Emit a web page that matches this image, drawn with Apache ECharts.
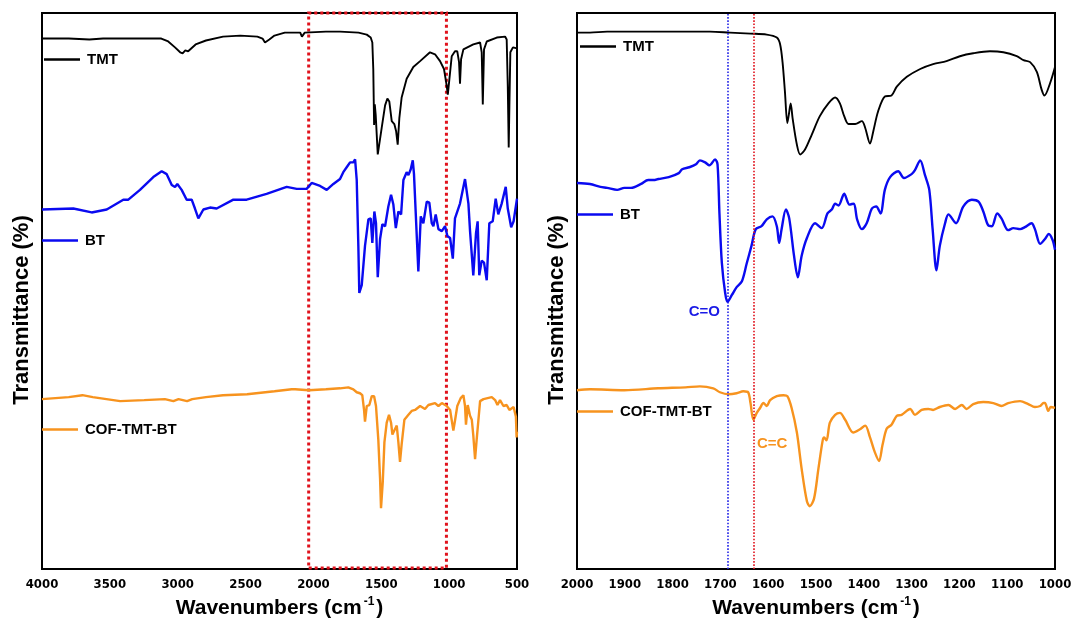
<!DOCTYPE html>
<html>
<head>
<meta charset="utf-8">
<style>html,body{margin:0;padding:0;background:#fff}#c{width:1075px;height:625px}</style>
<script src="https://cdn.jsdelivr.net/npm/echarts@6/dist/echarts.min.js"></script>
</head>
<body>
<div id="c"></div>
<script>
// ---- data: [wavenumber (cm-1), transmittance (offset, a.u.)] ----
const leftTMT = [[4000,540],[3803,540],[3651,539],[3550,540],[3297,540],[3121,540],[3070,537],[3020,531],[2982,526],[2964,525],[2944,528],[2923,527],[2868,534],[2792,538],[2666,542],[2539,543],[2413,542],[2375,540],[2357,536],[2325,539],[2287,543],[2211,546],[2097,546],[2085,542],[2064,546],[1908,547],[1804,547],[1668,546],[1607,544],[1578,541],[1566,536],[1559,509],[1553,452],[1548,473],[1541,462],[1526,422],[1497,449],[1472,472],[1455,479],[1441,476],[1423,456],[1404,453],[1391,446],[1379,432],[1367,459],[1350,480],[1313,499],[1264,511],[1214,517],[1141,526],[1104,524],[1067,517],[1038,509],[1018,492],[1010,483],[998,499],[981,522],[957,527],[940,527],[927,516],[920,494],[912,519],[895,529],[822,534],[772,536],[760,526],[752,473],[743,529],[723,537],[649,541],[588,542],[576,539],[568,492],[561,429],[555,480],[549,526],[530,531],[500,530]];
const leftBT = [[4000,366],[3769,367],[3634,363],[3523,366],[3401,376],[3364,376],[3278,386],[3180,399],[3118,405],[3081,402],[3044,391],[3020,389],[3003,392],[2971,386],[2934,376],[2897,376],[2873,367],[2848,357],[2811,366],[2762,368],[2713,367],[2590,376],[2492,376],[2345,382],[2197,389],[2123,387],[2050,387],[2013,393],[1951,390],[1902,386],[1853,392],[1804,397],[1780,404],[1755,409],[1730,414],[1718,416],[1706,414],[1693,417],[1681,396],[1669,329],[1662,281],[1644,289],[1620,329],[1595,356],[1578,357],[1566,332],[1551,364],[1539,352],[1526,297],[1509,336],[1492,351],[1472,349],[1448,369],[1428,381],[1411,371],[1393,347],[1374,364],[1354,361],[1337,396],[1313,404],[1300,401],[1283,407],[1268,416],[1259,402],[1227,303],[1209,359],[1190,352],[1165,374],[1146,373],[1128,352],[1116,349],[1099,361],[1079,346],[1054,344],[1030,349],[1013,339],[993,337],[973,316],[957,357],[920,372],[883,397],[858,372],[846,344],[833,342],[822,299],[802,342],[790,354],[778,299],[760,314],[743,312],[723,294],[704,352],[679,354],[657,377],[638,361],[613,372],[583,389],[568,367],[543,348],[525,354],[500,377]];
const leftCOF = [[4000,173],[3803,175],[3702,177],[3626,175],[3424,171],[3247,172],[3095,173],[3032,171],[2994,173],[2931,171],[2893,173],[2792,175],[2666,177],[2489,178],[2287,181],[2160,183],[2148,185],[2135,183],[2034,182],[1908,183],[1804,184],[1743,185],[1706,183],[1681,180],[1657,179],[1640,177],[1627,162],[1620,150],[1607,166],[1588,167],[1570,176],[1553,176],[1539,166],[1522,132],[1509,92],[1502,62],[1489,89],[1477,129],[1460,149],[1443,157],[1428,149],[1418,137],[1404,141],[1386,146],[1374,129],[1362,109],[1350,127],[1330,152],[1300,157],[1276,161],[1251,162],[1214,166],[1178,163],[1153,167],[1104,169],[1079,166],[1054,169],[1018,166],[993,162],[969,141],[957,151],[940,166],[915,174],[895,177],[883,166],[876,147],[863,167],[846,156],[833,152],[822,136],[809,112],[797,132],[772,171],[747,173],[686,175],[661,172],[644,167],[625,172],[600,166],[576,167],[556,162],[525,165],[508,155],[503,134],[500,140]];
const rightTMT = [[2000,546],[1973,546],[1937,547],[1866,547],[1794,547],[1722,547],[1680,546],[1637,545],[1603,544],[1582,541],[1575,534],[1570,516],[1565,486],[1560,454],[1557,462],[1553,474],[1549,459],[1540,432],[1533,422],[1523,427],[1509,442],[1492,461],[1474,474],[1460,480],[1450,474],[1441,461],[1432,453],[1418,453],[1404,456],[1397,449],[1387,433],[1380,446],[1370,466],[1356,481],[1342,482],[1331,491],[1310,501],[1282,509],[1255,514],[1227,517],[1199,522],[1171,525],[1136,527],[1108,526],[1080,522],[1066,518],[1052,516],[1038,506],[1028,488],[1022,482],[1010,495],[1000,511]];
const rightBT = [[2000,393],[1973,392],[1951,389],[1937,388],[1916,386],[1901,388],[1887,388],[1866,392],[1851,396],[1837,396],[1830,397],[1808,399],[1787,403],[1780,407],[1765,409],[1751,412],[1743,416],[1732,414],[1723,411],[1711,417],[1706,412],[1702,362],[1697,312],[1690,281],[1685,272],[1676,279],[1666,287],[1655,293],[1645,311],[1635,329],[1626,346],[1614,349],[1603,356],[1591,359],[1582,349],[1577,332],[1572,346],[1563,366],[1556,357],[1546,319],[1538,297],[1530,319],[1519,337],[1502,352],[1488,347],[1476,362],[1467,366],[1460,372],[1453,370],[1441,382],[1430,371],[1421,372],[1414,356],[1404,346],[1394,352],[1383,367],[1374,369],[1365,362],[1356,386],[1345,399],[1328,405],[1316,398],[1300,402],[1293,406],[1282,416],[1272,401],[1263,386],[1256,346],[1248,304],[1241,329],[1230,352],[1223,361],[1207,352],[1192,369],[1174,376],[1160,374],[1150,364],[1140,350],[1132,349],[1121,362],[1112,357],[1098,345],[1087,347],[1073,346],[1063,348],[1049,352],[1042,346],[1031,331],[1021,336],[1013,341],[1005,335],[1000,325]];
const rightCOF = [[2000,182],[1973,183],[1901,182],[1830,184],[1773,185],[1743,186],[1715,184],[1701,180],[1683,178],[1666,179],[1652,181],[1642,180],[1637,169],[1631,152],[1624,159],[1617,164],[1610,169],[1603,166],[1596,172],[1582,176],[1568,177],[1560,176],[1551,164],[1540,139],[1530,102],[1519,69],[1513,64],[1504,72],[1495,102],[1486,131],[1483,134],[1478,131],[1471,149],[1460,157],[1450,159],[1439,152],[1422,139],[1409,142],[1397,146],[1387,134],[1377,119],[1368,110],[1361,126],[1352,143],[1342,147],[1331,156],[1321,157],[1303,163],[1293,157],[1279,162],[1265,163],[1255,162],[1241,165],[1223,167],[1209,163],[1195,167],[1185,163],[1171,168],[1150,170],[1129,169],[1112,166],[1098,169],[1073,171],[1056,168],[1042,165],[1031,166],[1024,169],[1021,169],[1014,161],[1009,165],[1000,164]];
const leftXRange = [500, 4000], leftXStep = 500;
const rightXRange = [1000, 2000], rightXStep = 100;
const leftBox = [2035, 1020];          // dotted box in left panel (cm-1)
const markCO = 1685, markCC = 1630;    // dotted guide lines (cm-1)
const colors = {TMT: '#000000', BT: '#0A0AF0', 'COF-TMT-BT': '#F7931E'};

const chart = echarts.init(document.getElementById('c'), null, {renderer: 'canvas'});
const tickFont = "'DejaVu Sans Condensed','Liberation Sans Narrow','Arial Narrow','Liberation Sans',Arial,sans-serif";
const mainFont = "'Liberation Sans',Arial,Helvetica,sans-serif";

function xAxis(idx, range, step) {
  return {
    type: 'value', gridIndex: idx, inverse: true, min: range[0], max: range[1], interval: step,
    axisLine: {show: false}, axisTick: {show: false}, splitLine: {show: false},
    axisLabel: {color: '#000', fontWeight: 'bold', fontSize: 13, fontFamily: tickFont, margin: 9,
      showMinLabel: true, showMaxLabel: true, formatter: function (v) { return String(v); }},
    name: 'Wavenumbers (cm{sup|-1})', nameLocation: 'middle', nameGap: 23,
    nameTextStyle: {color: '#000', fontWeight: 'bold', fontSize: 21, fontFamily: mainFont, lineHeight: 24,
      rich: {sup: {fontSize: 12, fontWeight: 'bold', fontFamily: mainFont, color: '#000', verticalAlign: 'top', lineHeight: 12, padding: [0, 2, 0, 2]}}}
  };
}
function yAxis(idx) {
  return {type: 'value', gridIndex: idx, min: 0, max: 566, axisLine: {show: false}, axisTick: {show: false}, axisLabel: {show: false}, splitLine: {show: false}};
}
function line(name, data, xi, extra) {
  return Object.assign({
    name: name, type: 'line', xAxisIndex: xi, yAxisIndex: xi, data: data, showSymbol: false, symbol: 'none',
    smooth: xi === 1 ? 0.3 : false,
    lineStyle: {color: colors[name], width: name === 'TMT' ? 1.9 : 2.4}, itemStyle: {color: colors[name]},
    silent: true, z: name === 'TMT' ? 3 : 2
  }, extra || {});
}
function legend(name, left, top) {
  return {data: [name], left: left, top: top, padding: 0, icon: 'rect', itemWidth: 36, itemHeight: 2.4,
    selectedMode: false, textStyle: {color: '#000', fontWeight: 'bold', fontSize: 15, fontFamily: mainFont, padding: [0, 0, 0, 2]}};
}

const option = {
  animation: false,
  backgroundColor: '#fff',
  grid: [
    {left: 42, right: 558, top: 13, bottom: 46, show: true, borderColor: '#000', borderWidth: 2, backgroundColor: 'transparent'},
    {left: 577, right: 20, top: 13, bottom: 46, show: true, borderColor: '#000', borderWidth: 2, backgroundColor: 'transparent'}
  ],
  xAxis: [xAxis(0, leftXRange, leftXStep), xAxis(1, rightXRange, rightXStep)],
  yAxis: [yAxis(0), yAxis(1)],
  legend: [
    legend('TMT', 44, 52), legend('BT', 42, 233), legend('COF-TMT-BT', 42, 422),
    legend('TMT', 580, 39), legend('BT', 577, 207), legend('COF-TMT-BT', 577, 404)
  ],
  series: [
    line('TMT', leftTMT, 0, {markArea: {silent: true, itemStyle: {color: 'rgba(0,0,0,0)', borderColor: '#E0121C', borderWidth: 3, borderType: 'dotted'},
      data: [[{xAxis: leftBox[0], yAxis: 1}, {xAxis: leftBox[1], yAxis: 566}]]}}),
    line('BT', leftBT, 0),
    line('COF-TMT-BT', leftCOF, 0),
    line('TMT', rightTMT, 1, {markLine: {silent: true, symbol: ['none', 'none'], label: {show: false},
      data: [{xAxis: markCO, lineStyle: {color: '#2323E6', width: 1.6, type: 'dotted'}},
             {xAxis: markCC, lineStyle: {color: '#E0121C', width: 1.6, type: 'dotted'}}]}}),
    line('BT', rightBT, 1),
    line('COF-TMT-BT', rightCOF, 1)
  ],
  graphic: [
    {type: 'text', x: 22, y: 310, rotation: Math.PI / 2, style: {text: 'Transmittance (%)', fill: '#000', font: 'bold 22px ' + mainFont, textAlign: 'center', textVerticalAlign: 'middle'}},
    {type: 'text', x: 557, y: 310, rotation: Math.PI / 2, style: {text: 'Transmittance (%)', fill: '#000', font: 'bold 22px ' + mainFont, textAlign: 'center', textVerticalAlign: 'middle'}},
    {type: 'text', x: 720, y: 312, style: {text: 'C=O', fill: '#1A1AE6', font: 'bold 15px ' + mainFont, textAlign: 'right', textVerticalAlign: 'middle'}},
    {type: 'text', x: 757, y: 444, style: {text: 'C=C', fill: '#F7931E', font: 'bold 15px ' + mainFont, textAlign: 'left', textVerticalAlign: 'middle'}}
  ]
};
chart.setOption(option);
</script>
</body>
</html>
